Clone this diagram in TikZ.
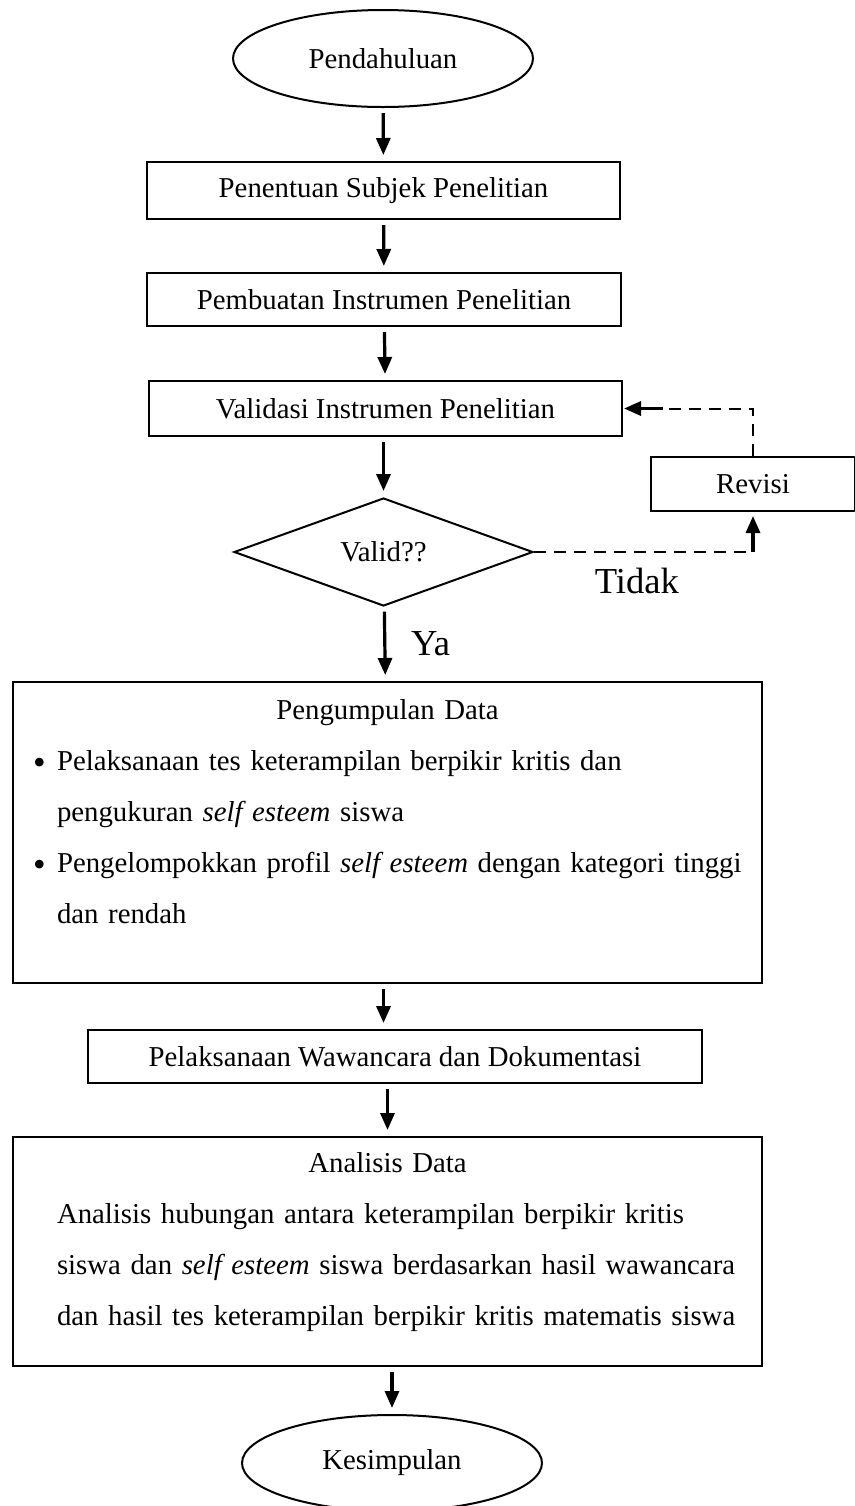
\documentclass[tikz,border=0pt]{standalone}
\usepackage{fontspec}
\setmainfont{Liberation Serif}
\usetikzlibrary{arrows.meta}
\usetikzlibrary{shapes.geometric}
\usetikzlibrary{positioning}
\newcommand{\titik}{\makebox[12pt][l]{\raisebox{-1.8pt}{\fontsize{18pt}{18pt}\selectfont\textbullet}}}

\begin{document}
\begin{tikzpicture}
		[x=0.5pt, y=-0.5pt,
		line width=1pt,
		font=\fontsize{14.4pt}{25.5pt}\selectfont,
		> = {Triangle[length=8.5pt,width=7pt]},
		kotak/.style = {draw, rectangle, inner sep=0pt},
		elips/.style = {draw, ellipse, inner sep=0pt, minimum width=150pt},
		belah/.style = {draw, diamond, inner sep=0pt},
		panah/.style = {->, line width=1.6pt, shorten <=2.5pt, shorten >=3pt},
		putus/.style = {dashed, dash pattern=on 6pt off 4pt},
		besar/.style = {font=\fontsize{18.3pt}{22pt}\selectfont}
		]
		\useasboundingbox (0,0) rectangle (855,1506);

		% alur utama
		\node[elips, minimum height=48.5pt] (mulai) at (383,58.5) {Pendahuluan};
		\node[kotak, minimum width=236.5pt, minimum height=28.5pt] (subjek) at (383.5,190.5) {Penentuan Subjek Penelitian};
		\node[kotak, minimum width=237pt, minimum height=26.5pt] (instrumen) at (384,299.5) {Pembuatan Instrumen Penelitian};
		\node[kotak, minimum width=236.5pt, minimum height=27.5pt] (validasi) at (385.5,408.5) {Validasi Instrumen Penelitian};
		\node[belah, minimum width=149.5pt, minimum height=54pt] (valid) at (383.5,552) {Valid??};
		\node[kotak, minimum width=102pt, minimum height=27pt] (revisi) at (753,484) {Revisi};

		\node[kotak, minimum width=374.5pt, minimum height=150.5pt, text width=374.5pt, align=left] (kumpul) at (387.5,832.5) {%
			\makebox[\linewidth]{Pengumpulan Data}\\
			\hspace*{10pt}\titik Pelaksanaan tes keterampilan berpikir kritis dan\\
			\hspace*{22pt}pengukuran \textit{self esteem} siswa\\
			\hspace*{10pt}\titik Pengelompokkan profil \textit{self esteem} dengan kategori tinggi\\
			\hspace*{22pt}dan rendah\rule[-21pt]{0pt}{0pt}};

		\node[kotak, minimum width=307pt, minimum height=26.5pt] (wawancara) at (395,1056.5) {Pelaksanaan Wawancara dan Dokumentasi};

		\node[kotak, minimum width=374.5pt, minimum height=114.5pt, text width=374.5pt, align=left] (analisis) at (387.5,1251.5) {%
			\makebox[\linewidth]{Analisis Data}\\
			\hspace*{22pt}Analisis hubungan antara keterampilan berpikir kritis\\
			\hspace*{22pt}siswa dan \textit{self esteem} siswa berdasarkan hasil wawancara\\
			\hspace*{22pt}dan hasil tes keterampilan berpikir kritis matematis siswa\rule[-12.5pt]{0pt}{0pt}};

		\node[elips, minimum height=48pt] (selesai) at (392,1463) {Kesimpulan};

		% panah
		\draw[panah] (mulai) -- (subjek);
		\draw[panah] (subjek) -- (instrumen);
		\draw[panah] (instrumen) -- (validasi);
		\draw[panah] (validasi.south -| valid) -- (valid);
		\draw[panah] (valid) -- (kumpul) node[midway, right=9pt, besar] (ya) {Ya};
		\draw[panah] (kumpul.south -| subjek) -- (wawancara.north -| subjek);
		\draw[panah] (wawancara.south -| kumpul) -- (analisis.north -| kumpul);
		\draw[panah] (analisis.south -| selesai) -- (selesai);

		% jalur revisi
		\coordinate (sudut1) at (valid.east -| revisi);
		\coordinate (sudut2) at (revisi.north |- validasi.east);
		\coordinate (ujung) at ([xshift=20pt]validasi.east);
		\draw[putus] (valid.east) -- (sudut1) node[pos=0.47, below=4pt, besar] (tidak) {Tidak};
		\draw[panah, shorten <=0pt, shorten >=2pt] (sudut1) -- (revisi.south);
		\draw[putus] (revisi.north) -- (sudut2) -- (ujung);
		\draw[panah, shorten <=0pt, shorten >=0.5pt] (ujung) -- (validasi.east);
	\end{tikzpicture}
\end{document}
